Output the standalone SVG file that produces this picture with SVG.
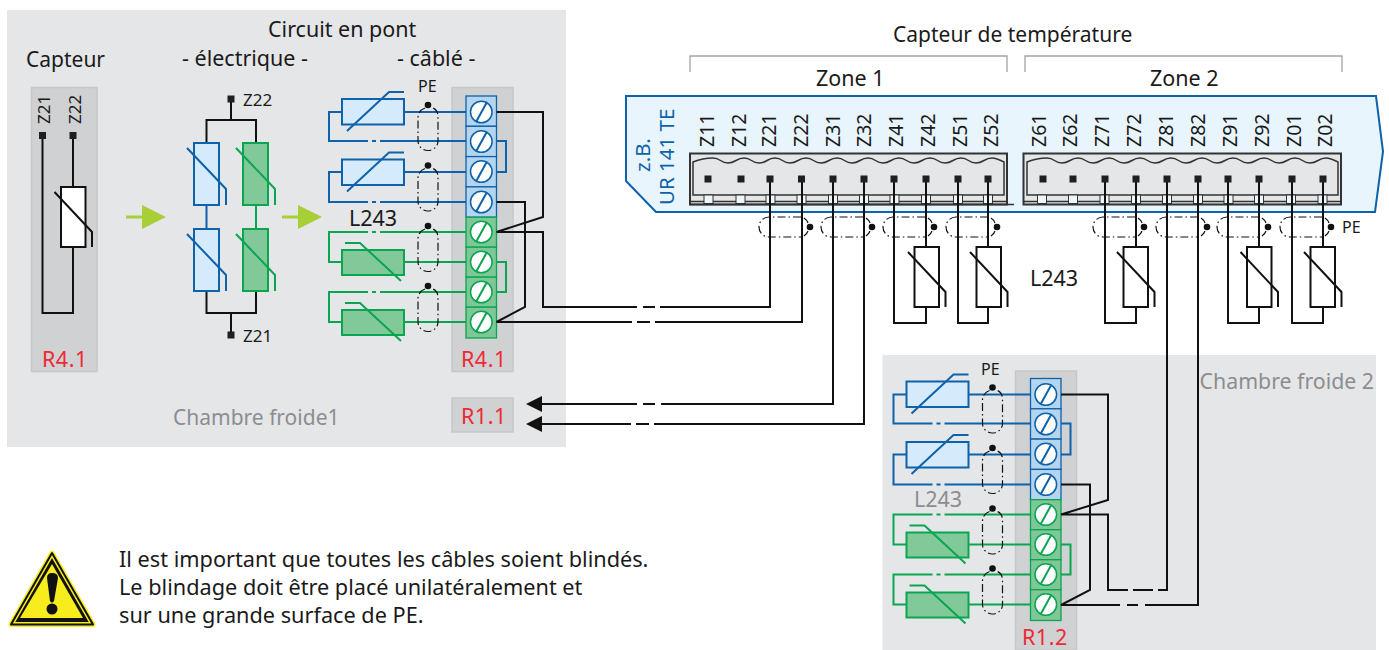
<svg xmlns="http://www.w3.org/2000/svg" xmlns:xlink="http://www.w3.org/1999/xlink" width="1389" height="650" viewBox="0 0 1389 650">
<style>
text{font-family:"Noto Sans","Open Sans","Liberation Sans",sans-serif;fill:#1a1a1a}
.t21{font-size:21.500px}.t20{font-size:21.700px}.t14{font-size:16px}.t17{font-size:17px}
.lab{font-size:19.500px}
.blue{font-size:20.500px;fill:#0d62ab}
.red{font-size:21.500px;fill:#ee2a32;letter-spacing:.5px}
.gr{font-size:21px;fill:#8c8d8f}
.bg{fill:#e5e6e8}
.pan{fill:#d0d1d3;stroke:#c6c7c9;stroke-width:1.5}
.b,.g,.bk{fill:none;stroke-linejoin:miter}
.bk{stroke:#111;stroke-width:2}
.b{stroke:#0d62ab;stroke-width:2}
.g{stroke:#0aa550;stroke-width:2}
.rw{fill:#fff;stroke:#111;stroke-width:2}
.rb{fill:#d5eafa;stroke:#0d62ab;stroke-width:2}
.rg{fill:#82c99a;stroke:#0aa550;stroke-width:2}
.cb{fill:#b5d5ee;stroke:#0d62ab;stroke-width:1.300}
.cg{fill:#7fc796;stroke:#0aa550;stroke-width:1.300}
.sb{fill:#fff;stroke:#0d62ab;stroke-width:1.500}
.sg{fill:#fff;stroke:#0aa550;stroke-width:1.500}
.sh{fill:none;stroke:#111;stroke-width:1.200;stroke-dasharray:8 3 1.500 3}
.sq{fill:#1f1f1f}
.dot{fill:#111}
.br{fill:none;stroke:#a3a4a6;stroke-width:1.300}
.ar{fill:#a8cf38}
.kn{fill:#e5e6e8;stroke:#333;stroke-width:2}
.in{fill:#e5e6e8;stroke:#333;stroke-width:1.500}
.ln{fill:none;stroke:#333;stroke-width:1.500}
.tk{fill:#eef6fb;stroke:#333;stroke-width:1}
</style>
<defs>
<rect id="term" class="sq" x="-3.500" y="-3.500" width="7" height="7"/>
<rect id="tick" class="tk" x="-4.500" y="195" width="9" height="8.500"/>
<g id="shv"><path class="sh" d="M-3 3Q-9 5 -10 12V36A10 9.500 0 0 0 10 36V12Q10 5 5 3"/><circle class="dot" cx="0" cy="0" r="3.300"/></g>
<g id="shh"><path class="sh" d="M42 0H10A10 10 0 0 0 10 20H42M45 1Q48 3 49 6M49 14Q48 17 45 19"/><circle class="dot" cx="51" cy="10" r="3.300"/></g>
<g id="rh"><rect class="rw" width="24.500" height="60"/><path class="bk" d="M-6.500 5L31 45V60"/></g>
<g id="sb"><rect class="rb" width="62" height="25.500"/><path class="b" d="M5 32L47 -7H62"/></g>
<g id="sg"><rect class="rg" width="62" height="25"/><path class="g" d="M3 -7H18L59 31"/></g>
<g id="bridge">
<path class="b" d="M404 112H466M342 112H329V141H368M380 141H466M404 172H466M342 172H329V202H368M380 202H466M496 141H506V172H496"/>
<path class="g" d="M368 232H329V262H342M380 232H466M404 262H466M496 262H506V292H496M368 292H329V322H342M380 292H466M404 322H466"/>
<path class="b" d="M372 141H376M372 202H376"/><path class="g" d="M372 232H376M372 292H376"/>
<use xlink:href="#sb" x="342" y="99"/><use xlink:href="#sb" x="342" y="159.500"/>
<use xlink:href="#sg" x="342" y="250"/><use xlink:href="#sg" x="342" y="310"/>
<use xlink:href="#shv" x="428" y="105"/><use xlink:href="#shv" x="428" y="165.500"/>
<use xlink:href="#shv" x="428" y="226"/><use xlink:href="#shv" x="428" y="286"/>
<rect class="cb" x="466" y="96" width="30.500" height="30.300"/><rect class="cb" x="466" y="126.300" width="30.500" height="30.300"/><rect class="cb" x="466" y="156.600" width="30.500" height="30.300"/><rect class="cb" x="466" y="186.900" width="30.500" height="30.300"/>
<rect class="cg" x="466" y="217.200" width="30.500" height="30"/><rect class="cg" x="466" y="247.200" width="30.500" height="30"/><rect class="cg" x="466" y="277.200" width="30.500" height="30"/><rect class="cg" x="466" y="307.200" width="30.500" height="30.800"/>
<g class="sb"><circle cx="481.300" cy="112" r="10.800"/><circle cx="481.300" cy="141.500" r="10.800"/><circle cx="481.300" cy="171.500" r="10.800"/><circle cx="481.300" cy="202" r="10.800"/></g>
<g class="sg"><circle cx="481.300" cy="232" r="10.800"/><circle cx="481.300" cy="262" r="10.800"/><circle cx="481.300" cy="292" r="10.800"/><circle cx="481.300" cy="322" r="10.800"/></g>
<path class="b" d="M476 122L487 102M476 151.500L487 131.500M476 181.500L487 161.500M476 212L487 192"/>
<path class="g" d="M476 242L487 222M476 272L487 252M476 302L487 282M476 332L487 312"/>
</g>
</defs>

<g id="chambre1"><rect class="bg" x="7" y="10" width="559" height="437"/></g>
<g id="chambre2"><rect class="bg" x="882.500" y="355" width="493.500" height="295"/></g>

<g id="titres">
<text class="t21" x="26" y="67" style="font-size:21px">Capteur</text>
<text class="t21" x="268" y="37">Circuit en pont</text>
<text class="t21" x="182" y="66">- électrique -</text>
<text class="t21" x="397" y="66">- câblé -</text>
<text class="t21" x="893" y="42" style="font-size:21px">Capteur de température</text>
<text class="t21" x="816" y="86">Zone 1</text>
<text class="t21" x="1150" y="86">Zone 2</text>
<text class="gr" x="173" y="425">Chambre froide1</text>
<text class="gr" x="1374" y="389" text-anchor="end" style="font-size:21.300px">Chambre froide 2</text>
<text class="t21" x="349" y="226">L243</text>
<text class="t21" x="1030" y="286">L243</text>
<text class="gr" x="914" y="507" style="font-size:21.500px">L243</text>
</g>

<g id="capteur">
<rect class="pan" x="31.500" y="87.500" width="65.500" height="284"/>
<text class="t17" transform="translate(50,124) rotate(-90)">Z21</text>
<text class="t17" transform="translate(81,124) rotate(-90)">Z22</text>
<path class="bk" d="M42.500 135V313H73V247M73 135V187"/>
<use xlink:href="#term" x="42.500" y="135.500"/><use xlink:href="#term" x="73" y="135.500"/>
<use xlink:href="#rh" x="61" y="187"/>
<text class="red" x="42" y="367">R4.1</text>
</g>

<g id="fleche1"><path class="ar" d="M126 215.500H142V205L166 217L142 229V218.500H126Z"/></g>
<g id="fleche2"><path class="ar" d="M282 215.500H298V205L322 217L298 229V218.500H282Z"/></g>

<g id="pont-electrique">
<path class="bk" d="M231 99V120M206.500 143V120H256V143M206.500 291V313H256V291M231 313V335"/>
<path class="b" d="M206.500 205V229"/><path class="g" d="M256 205V229"/>
<rect class="rb" x="194" y="143" width="25" height="62"/><rect class="rb" x="194" y="229" width="25" height="62"/>
<rect class="rg" x="243" y="143" width="25" height="62"/><rect class="rg" x="243" y="229" width="25" height="62"/>
<path class="b" d="M187 148L226 189V205M187 234L226 275V291"/>
<path class="g" d="M236 148L275 189V205M236 234L275 275V291"/>
<use xlink:href="#term" x="231" y="99"/><use xlink:href="#term" x="231" y="335"/>
<text class="t17" x="243" y="106">Z22</text>
<text class="t17" x="243" y="342">Z21</text>
</g>

<g id="pont-cable">
<rect class="pan" x="452" y="87.500" width="61" height="284"/>
<use xlink:href="#bridge"/>
<text class="t14" x="418" y="92">PE</text>
<text class="red" x="461" y="367">R4.1</text>
</g>
<g id="r11">
<rect class="pan" x="452" y="398" width="61" height="34"/>
<text class="red" x="461" y="424">R1.1</text>
</g>

<g id="pont-cable-2">
<rect class="pan" x="1015.500" y="371" width="61" height="279"/>
<use xlink:href="#bridge" transform="translate(564.500,282.500)"/>
<text class="t14" x="981" y="375">PE</text>
<text class="red" x="1022" y="645">R1.2</text>
</g>

<g id="appareil">
<path d="M626 96H1376L1383 151.500L1375 212H656L626 181Z" fill="#e8f5fc" stroke="#0d62ab" stroke-width="2"/>
<text class="blue" transform="translate(674,205) rotate(-90)">UR 141 TE</text>
<text class="blue" transform="translate(650,172) rotate(-90)">z.B.</text>
</g>

<g id="bornier1">
<rect class="kn" x="690" y="153.500" width="317" height="51"/>
<path class="in" d="M693 162Q703 158 713 158c8 0 7 5 15 5c8 0 8 -5 16 -5c8 0 7 5 15 5c8 0 8 -5 16 -5c8 0 7 5 15 5c8 0 8 -5 16 -5c8 0 7 5 15 5c8 0 8 -5 16 -5c8 0 7 5 15 5c8 0 8 -5 16 -5c8 0 7 5 15 5c8 0 8 -5 16 -5c8 0 7 5 15 5c8 0 8 -5 16 -5c8 0 7 5 15 5c8 0 8 -5 16 -5c8 0 7 5 15 5c8 0 8 -5 16 -5c4 0 8 2 12 4V195H693Z"/>
<path class="ln" d="M690 201.500H1007M690 204.500H1014"/>
<use xlink:href="#tick" x="708.500"/><use xlink:href="#tick" x="740.500"/><use xlink:href="#tick" x="770.500"/><use xlink:href="#tick" x="801.500"/><use xlink:href="#tick" x="833"/><use xlink:href="#tick" x="864"/><use xlink:href="#tick" x="894.500"/><use xlink:href="#tick" x="926"/><use xlink:href="#tick" x="958"/><use xlink:href="#tick" x="988"/>
</g>
<g id="bornier2">
<rect class="kn" x="1023.500" y="153.500" width="317.500" height="51"/>
<path class="in" d="M1027 162Q1037 158 1047 158c8 0 7 5 15 5c8 0 8 -5 16 -5c8 0 7 5 15 5c8 0 8 -5 16 -5c8 0 7 5 15 5c8 0 8 -5 16 -5c8 0 7 5 15 5c8 0 8 -5 16 -5c8 0 7 5 15 5c8 0 8 -5 16 -5c8 0 7 5 15 5c8 0 8 -5 16 -5c8 0 7 5 15 5c8 0 8 -5 16 -5c8 0 7 5 15 5c8 0 8 -5 16 -5c8 0 7 5 15 5c8 0 8 -5 16 -5c4 0 8 2 12 4V195H1027Z"/>
<path class="ln" d="M1023.500 201.500H1341"/>
<use xlink:href="#tick" x="1042"/><use xlink:href="#tick" x="1073"/><use xlink:href="#tick" x="1104.500"/><use xlink:href="#tick" x="1136"/><use xlink:href="#tick" x="1167"/><use xlink:href="#tick" x="1198"/><use xlink:href="#tick" x="1228.500"/><use xlink:href="#tick" x="1259"/><use xlink:href="#tick" x="1291"/><use xlink:href="#tick" x="1322.500"/>
</g>
<g id="etiquettes">
<text class="lab" transform="translate(714,147) rotate(-90)">Z11</text><text class="lab" transform="translate(746,147) rotate(-90)">Z12</text>
<text class="lab" transform="translate(776,147) rotate(-90)">Z21</text><text class="lab" transform="translate(808,147) rotate(-90)">Z22</text>
<text class="lab" transform="translate(840,147) rotate(-90)">Z31</text><text class="lab" transform="translate(871,147) rotate(-90)">Z32</text>
<text class="lab" transform="translate(903,147) rotate(-90)">Z41</text><text class="lab" transform="translate(935,147) rotate(-90)">Z42</text>
<text class="lab" transform="translate(967,147) rotate(-90)">Z51</text><text class="lab" transform="translate(998,147) rotate(-90)">Z52</text>
<text class="lab" transform="translate(1046,147) rotate(-90)">Z61</text><text class="lab" transform="translate(1077,147) rotate(-90)">Z62</text>
<text class="lab" transform="translate(1109,147) rotate(-90)">Z71</text><text class="lab" transform="translate(1141,147) rotate(-90)">Z72</text>
<text class="lab" transform="translate(1173,147) rotate(-90)">Z81</text><text class="lab" transform="translate(1205,147) rotate(-90)">Z82</text>
<text class="lab" transform="translate(1237,147) rotate(-90)">Z91</text><text class="lab" transform="translate(1269,147) rotate(-90)">Z92</text>
<text class="lab" transform="translate(1301,147) rotate(-90)">Z01</text><text class="lab" transform="translate(1332,147) rotate(-90)">Z02</text>
<text class="t14" x="1342" y="233">PE</text>
</g>

<g id="accolades">
<path class="br" d="M690 72V56H1007V72"/><path class="br" d="M1025 72V56H1342V72"/>
</g>

<g id="blindages">
<use xlink:href="#shh" x="759" y="217"/><use xlink:href="#shh" x="821" y="217"/><use xlink:href="#shh" x="883" y="217"/><use xlink:href="#shh" x="946" y="217"/>
<use xlink:href="#shh" x="1093" y="217"/><use xlink:href="#shh" x="1156" y="217"/><use xlink:href="#shh" x="1217" y="217"/><use xlink:href="#shh" x="1280" y="217"/>
</g>
<g id="connecteurs">
<path class="bk" d="M496.500 112H543V217L496.500 232H543V307H637M643 307H655M660 307H770V179"/>
<path class="bk" d="M496.500 202H525V307L496.500 322H632M637 322H650M655 322H802V179"/>
<path class="bk" d="M536 404H637M643 404H655M661 404H833V179"/>
<path class="bk" d="M536 424H631M636 424H649M654 424H864V179"/>
<path d="M526 404L542 396V412ZM526 424L542 416V432Z" fill="#111"/>
<path class="bk" d="M894 179V323H926V307M926 179V247M958 179V323H988V307M988 179V247M1105 179V323H1136V307M1136 179V247M1228 179V323H1259V307M1259 179V247M1292 179V323H1323V307M1323 179V247"/>
<path class="bk" d="M1061 394.500H1108V500L1061 514.500H1108V590H1128M1133 590H1153M1158 590H1167V179"/>
<path class="bk" d="M1061 484.500H1090V590L1061 605H1120M1127 605H1138M1145 605H1198V179"/>
</g>
<g id="resistances">
<use xlink:href="#rh" x="914.500" y="247"/><use xlink:href="#rh" x="976.500" y="247"/>
<use xlink:href="#rh" x="1123.500" y="247"/><use xlink:href="#rh" x="1247" y="247"/><use xlink:href="#rh" x="1310.500" y="247"/>
</g>
<g id="bornes">
<use xlink:href="#term" x="708" y="179"/><use xlink:href="#term" x="741" y="179"/><use xlink:href="#term" x="770" y="179"/><use xlink:href="#term" x="801.500" y="179"/><use xlink:href="#term" x="833" y="179"/><use xlink:href="#term" x="864" y="179"/><use xlink:href="#term" x="894" y="179"/><use xlink:href="#term" x="926" y="179"/><use xlink:href="#term" x="958" y="179"/><use xlink:href="#term" x="988" y="179"/>
<use xlink:href="#term" x="1043" y="179"/><use xlink:href="#term" x="1073" y="179"/><use xlink:href="#term" x="1105" y="179"/><use xlink:href="#term" x="1136" y="179"/><use xlink:href="#term" x="1167" y="179"/><use xlink:href="#term" x="1198" y="179"/><use xlink:href="#term" x="1228" y="179"/><use xlink:href="#term" x="1259" y="179"/><use xlink:href="#term" x="1292" y="179"/><use xlink:href="#term" x="1323" y="179"/>
</g>

<g id="avertissement">
<path d="M52 553L11 624.500H93Z" fill="#111" stroke="#f7ec1d" stroke-width="5" stroke-linejoin="round"/>
<path d="M52 553L11 624.500H93Z" fill="none" stroke="#111" stroke-width="2" stroke-linejoin="round"/>
<path d="M52 564L20 618H83Z" fill="#f7ec1d"/>
<path d="M47 578Q47 573 52 573Q58 573 58 578L54 601Q52 604 50 601Z" fill="#111"/>
<circle cx="52" cy="609" r="5.500" fill="#111"/>
</g>
<g id="note">
<text class="t20" x="119" y="567">Il est important que toutes les câbles soient blindés.</text>
<text class="t20" x="119" y="595">Le blindage doit être placé unilatéralement et</text>
<text class="t20" x="119" y="623">sur une grande surface de PE.</text>
</g>
</svg>
